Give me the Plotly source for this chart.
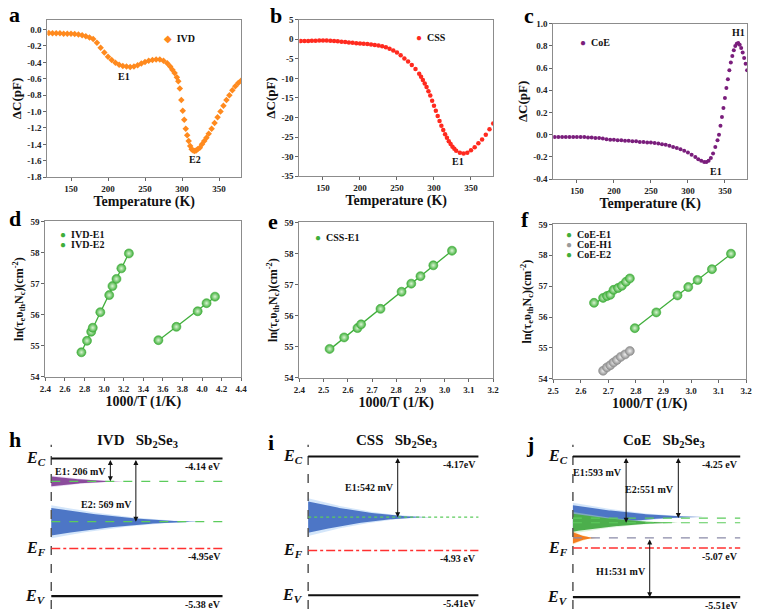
import numpy as np
import plotly.graph_objects as go

W, H = 760, 614
SERIF = "Times New Roman, Liberation Serif, DejaVu Serif, serif"

# ------------------------------------------------------------------ data
# (a) IVD  ΔC vs T
ivd_temp = [120, 125, 130, 135, 140, 145, 150, 155, 160, 165, 170, 175, 180, 185, 190, 195,
            200, 205, 210, 215, 220, 225, 230, 235, 240, 245, 250, 255, 260, 265, 270, 275,
            280, 284, 287, 290, 293, 295, 297, 299, 301, 303, 305, 307, 309, 311, 313, 315,
            317, 319, 321, 324, 327, 330, 333, 336, 340, 344, 348, 352, 356, 360, 364, 368,
            372, 376, 380]
ivd_dc = [-0.04, -0.045, -0.045, -0.045, -0.05, -0.05, -0.05, -0.055, -0.06, -0.07, -0.08,
          -0.095, -0.115, -0.16, -0.22, -0.28, -0.33, -0.37, -0.405, -0.43, -0.445, -0.45,
          -0.455, -0.45, -0.435, -0.415, -0.395, -0.38, -0.37, -0.365, -0.365, -0.38, -0.41,
          -0.45, -0.49, -0.53, -0.58, -0.63, -0.72, -0.86, -0.99, -1.10, -1.21, -1.29, -1.36,
          -1.42, -1.46, -1.475, -1.48, -1.475, -1.46, -1.44, -1.40, -1.36, -1.32, -1.27,
          -1.21, -1.14, -1.07, -1.00, -0.93, -0.86, -0.80, -0.74, -0.69, -0.65, -0.62]

# (b) CSS  ΔC vs T
css_temp = [120, 125, 130, 135, 140, 145, 150, 155, 160, 165, 170, 175, 180, 185, 190, 195,
            200, 205, 210, 215, 220, 225, 230, 235, 240, 245, 250, 255, 260, 265, 270, 275,
            280, 282.5, 285, 287.5, 290, 292.5, 295, 297.5, 300, 302.5, 305, 307.5, 310,
            312.5, 315, 317.5, 320, 322.5, 325, 327.5, 330, 335, 340, 345, 350, 355, 360,
            365, 370, 375, 380]
css_dc = [-0.45, -0.42, -0.4, -0.37, -0.35, -0.32, -0.3, -0.32, -0.35, -0.42, -0.5, -0.6,
          -0.7, -0.8, -0.9, -0.98, -1.05, -1.12, -1.2, -1.32, -1.45, -1.6, -1.8, -2.05,
          -2.4, -2.85, -3.4, -4.1, -4.9, -5.7, -6.6, -7.6, -8.8, -9.6, -10.4, -11.3, -12.2,
          -13.3, -14.4, -15.7, -17.0, -18.3, -19.6, -20.9, -22.1, -23.2, -24.3, -25.2,
          -26.1, -26.8, -27.5, -28.0, -28.5, -29.0, -29.2, -29.0, -28.4, -27.6, -26.6,
          -25.6, -24.4, -23.0, -21.5]

# (c) CoE  ΔC vs T
coe_temp = [120, 125, 130, 135, 140, 145, 150, 155, 160, 165, 170, 175, 180, 185, 190, 195,
            200, 205, 210, 215, 220, 225, 230, 235, 240, 245, 250, 255, 260, 265, 270, 275,
            280, 285, 290, 295, 300, 305, 310, 314, 318, 322, 325, 328, 331, 334, 337, 340,
            342, 344, 346, 348, 350, 352, 354, 356, 358, 360, 362, 364, 366, 368, 370, 372,
            374, 376, 378, 380]
coe_dc = [-0.02, -0.02, -0.02, -0.02, -0.02, -0.02, -0.02, -0.02, -0.02, -0.025, -0.025,
          -0.03, -0.03, -0.035, -0.04, -0.045, -0.045, -0.05, -0.05, -0.055, -0.055, -0.06,
          -0.06, -0.065, -0.065, -0.07, -0.07, -0.075, -0.08, -0.085, -0.09, -0.1, -0.11,
          -0.12, -0.13, -0.145, -0.16, -0.18, -0.2, -0.22, -0.235, -0.245, -0.245, -0.235,
          -0.21, -0.17, -0.11, -0.05, 0.0, 0.08, 0.16, 0.24, 0.33, 0.42, 0.5, 0.58, 0.65,
          0.71, 0.76, 0.80, 0.82, 0.825, 0.81, 0.78, 0.74, 0.69, 0.64, 0.58]

# (d)-(f) Arrhenius points
ivd_e1_x = [3.554, 3.738, 3.955, 4.046, 4.132]
ivd_e1_y = [55.18, 55.61, 56.11, 56.37, 56.58]
ivd_e2_x = [2.768, 2.825, 2.868, 2.884, 2.961, 3.052, 3.085, 3.126, 3.176, 3.253]
ivd_e2_y = [54.79, 55.16, 55.45, 55.58, 56.08, 56.63, 56.92, 57.15, 57.49, 57.97]
css_e1_x = [2.525, 2.585, 2.640, 2.655, 2.735, 2.822, 2.862, 2.900, 2.953, 3.030]
css_e1_y = [54.93, 55.30, 55.60, 55.72, 56.22, 56.77, 57.03, 57.27, 57.62, 58.09]
coe_e1_x = [2.796, 2.874, 2.951, 2.990, 3.024, 3.076, 3.145]
coe_e1_y = [55.64, 56.15, 56.70, 56.97, 57.20, 57.55, 58.05]
coe_h1_x = [2.681, 2.695, 2.707, 2.719, 2.731, 2.745, 2.761, 2.778]
coe_h1_y = [54.26, 54.37, 54.44, 54.53, 54.61, 54.71, 54.79, 54.90]
coe_e2_x = [2.648, 2.681, 2.695, 2.707, 2.719, 2.735, 2.749, 2.764, 2.778]
coe_e2_y = [56.46, 56.62, 56.68, 56.72, 56.88, 56.94, 57.01, 57.14, 57.25]

# tick labels
a_yticks = ["0.0", "-0.2", "-0.4", "-0.6", "-0.8", "-1.0", "-1.2", "-1.4", "-1.6", "-1.8"]
b_yticks = ["5", "0", "-5", "-10", "-15", "-20", "-25", "-30", "-35"]
c_yticks = ["1.0", "0.8", "0.6", "0.4", "0.2", "0.0", "-0.2", "-0.4"]
temp_tick_labels = ["150", "200", "250", "300", "350"]
d_xticks = ["2.4", "2.6", "2.8", "3.0", "3.2", "3.4", "3.6", "3.8", "4.0", "4.2", "4.4"]
e_xticks = ["2.4", "2.5", "2.6", "2.7", "2.8", "2.9", "3.0", "3.1", "3.2"]
f_xticks = ["2.5", "2.6", "2.7", "2.8", "2.9", "3.0", "3.1", "3.2"]
ln_yticks = ["54", "55", "56", "57", "58", "59"]

# (h)-(j) band diagrams (eV / meV)
sample_names = ["IVD", "CSS", "CoE"]
ec_level = [-4.14, -4.17, -4.25]
ev_level = [-5.38, -5.41, -5.51]
ef_level = [-4.95, -5.01, -5.07]          # drawn position of E_F
ec_text = ["-4.14 eV", "-4.17eV", "-4.25 eV"]
ef_text = ["-4.95eV", "-4.93 eV", "-5.07 eV"]
ev_text = ["-5.38 eV", "-5.41eV", "-5.51eV"]
ivd_traps_mev = [206, 569]                # below E_C
css_traps_mev = [542]                     # below E_C
coe_e_traps_mev = [593, 551]              # below E_C
coe_h_traps_mev = [531]                   # above E_V

# ------------------------------------------------------------------ helpers
def px(x):
    return x / W


def py(y):
    return 1 - y / H


def dom_x(a, b):
    return [px(a), px(b)]


def dom_y(top, bottom):
    return [py(bottom), py(top)]


def ticks(labels):
    return dict(tickmode="array", tickvals=[float(s) for s in labels], ticktext=labels)


TICKFONT = dict(family=SERIF, size=9, color="#222", weight="bold")


def frame(domain, rng, tk, title, anchor, standoff, tsize=13):
    d = dict(domain=domain, range=rng, showline=True, mirror=True, linecolor="#8c8c8c",
             linewidth=1, ticks="outside", ticklen=3, tickcolor="#666", tickfont=TICKFONT,
             showgrid=False, zeroline=False, anchor=anchor,
             title=dict(text=title, standoff=standoff,
                        font=dict(family=SERIF, size=tsize, color="#111", weight="bold")))
    d.update(tk)
    return d


fig = go.Figure()
layout = dict(width=W, height=H, margin=dict(l=0, r=0, t=0, b=0), showlegend=False,
              paper_bgcolor="white", plot_bgcolor="white")
annotations = []
shapes = []

temp_ticks = ticks(temp_tick_labels)
tlabel = "Temperature (K)"
ylab1 = "ΔC(pF)"
ylab2 = "ln(τ<sub>e</sub>υ<sub>th</sub>N<sub>c</sub>)(cm<sup>-2</sup>)"

# ---------------- row 1
layout["xaxis"] = frame(dom_x(42, 239), [118, 380], temp_ticks, tlabel, "y", 0, 14)
layout["yaxis"] = frame(dom_y(15, 175), [-1.8, 0.12], ticks(a_yticks), ylab1, "x", 2)
layout["xaxis2"] = frame(dom_x(298, 495), [118, 380], temp_ticks, tlabel, "y2", 0, 14)
layout["yaxis2"] = frame(dom_y(15, 174), [-35, 5], ticks(b_yticks), ylab1, "x2", 2)
layout["xaxis3"] = frame(dom_x(556, 753), [118, 380], temp_ticks, tlabel, "y3", 0, 14)
layout["yaxis3"] = frame(dom_y(19, 177), [-0.4, 1.0], ticks(c_yticks), ylab1, "x3", 2)

fig.add_trace(go.Scatter(x=ivd_temp, y=ivd_dc, mode="markers", xaxis="x", yaxis="y",
                         marker=dict(symbol="diamond", size=5, color="#ff8a1e")))
fig.add_trace(go.Scatter(x=css_temp, y=css_dc, mode="markers", xaxis="x2", yaxis="y2",
                         marker=dict(symbol="circle", size=4.5, color="#ff2a1f")))
fig.add_trace(go.Scatter(x=coe_temp, y=coe_dc, mode="markers", xaxis="x3", yaxis="y3",
                         marker=dict(symbol="circle", size=4, color="#7a1e7c")))

LBL = dict(family=SERIF, size=10, color="#111", weight="bold")
for xr, yr, x, y, t in [("x", "y", 221, -0.57, "E1"), ("x", "y", 318, -1.59, "E2"),
                        ("x2", "y2", 332, -31.3, "E1"),
                        ("x3", "y3", 368, 0.92, "H1"), ("x3", "y3", 338, -0.33, "E1")]:
    annotations.append(dict(xref=xr, yref=yr, x=x, y=y, text=t, showarrow=False, font=LBL))

# ---------------- row 2
xl2 = "1000/T (1/K)"
layout["xaxis4"] = frame(dom_x(40, 239), [2.4, 4.4], ticks(d_xticks), xl2, "y4", 0, 14)
layout["yaxis4"] = frame(dom_y(220, 378), [54, 59], ticks(ln_yticks), ylab2, "x4", 4, 12)
layout["xaxis5"] = frame(dom_x(298, 495), [2.4, 3.2], ticks(e_xticks), xl2, "y5", 0, 14)
layout["yaxis5"] = frame(dom_y(221, 379), [54, 59], ticks(ln_yticks), ylab2, "x5", 4, 12)
layout["xaxis6"] = frame(dom_x(556, 752), [2.5, 3.2], ticks(f_xticks), xl2, "y6", 0, 14)
layout["yaxis6"] = frame(dom_y(223, 380), [54, 59], ticks(ln_yticks), ylab2, "x6", 4, 12)

GREEN = "#3fae3a"
GRAY = "#9a9a9a"


def arrhenius(xs, ys, xa, ya, color, light):
    k, b = np.polyfit(xs, ys, 1)
    xl = np.array([min(xs), max(xs)])
    fig.add_trace(go.Scatter(x=xl, y=k * xl + b, mode="lines", xaxis=xa, yaxis=ya,
                             line=dict(color=color, width=1.3)))
    fig.add_trace(go.Scatter(x=xs, y=ys, mode="markers", xaxis=xa, yaxis=ya,
                             marker=dict(size=9, color=color,
                                         gradient=dict(type="radial", color=light),
                                         line=dict(width=0.6, color=color))))


arrhenius(ivd_e1_x, ivd_e1_y, "x4", "y4", GREEN, "#d9f5d2")
arrhenius(ivd_e2_x, ivd_e2_y, "x4", "y4", GREEN, "#d9f5d2")
arrhenius(css_e1_x, css_e1_y, "x5", "y5", GREEN, "#d9f5d2")
arrhenius(coe_e1_x, coe_e1_y, "x6", "y6", GREEN, "#d9f5d2")
arrhenius(coe_h1_x, coe_h1_y, "x6", "y6", "#8f8f8f", "#eeeeee")
arrhenius(coe_e2_x, coe_e2_y, "x6", "y6", GREEN, "#d9f5d2")


def legend_entry(x, y, glyph, color, text):
    annotations.append(dict(xref="paper", yref="paper", x=px(x), y=py(y), xanchor="left",
                            yanchor="middle", showarrow=False, font=LBL,
                            text=f'<span style="color:{color}">{glyph}</span>&nbsp;&nbsp;{text}'))


legend_entry(158, 34, "◆", "#ff8a1e", "IVD")
legend_entry(415, 33, "●", "#ff2a1f", "CSS")
legend_entry(581, 38, "●", "#7a1e7c", "CoE")
legend_entry(53, 233, "●", GREEN, "IVD-E1")
legend_entry(53, 243, "●", GREEN, "IVD-E2")
legend_entry(312, 236, "●", GREEN, "CSS-E1")
legend_entry(567, 233, "●", GREEN, "CoE-E1")
legend_entry(567, 243, "●", GRAY, "CoE-H1")
legend_entry(567, 254, "●", GREEN, "CoE-E2")

# ---------------- row 3 : band diagrams
BLUE, BLUE_GLOW = "#4d76c6", "rgba(160,200,245,0.45)"
panels = [
    dict(ax="7", x0=46, x1=220, ec_px=461, ev_px=601, title_x=134,
         levels=[(ec_level[0] - m / 1000, "#5ccc5c", "dash") for m in ivd_traps_mev],
         fans=[(ec_level[0] - ivd_traps_mev[0] / 1000, 0.425, 0.044, "#8b4c9c", "rgba(205,165,230,0.45)"),
               (ec_level[0] - ivd_traps_mev[1] / 1000, 0.885, 0.124, BLUE, BLUE_GLOW)],
         arrows=[(0.345, ec_level[0], ec_level[0] - ivd_traps_mev[0] / 1000,
                  f"E1: {ivd_traps_mev[0]} mV", -4.255),
                 (0.494, ec_level[0], ec_level[0] - ivd_traps_mev[1] / 1000,
                  f"E2: {ivd_traps_mev[1]} mV", -4.556)]),
    dict(ax="8", x0=307, x1=480, ec_px=459, ev_px=600, title_x=397,
         levels=[(ec_level[1] - m / 1000, "#5ccc5c", "dot") for m in css_traps_mev],
         fans=[(ec_level[1] - css_traps_mev[0] / 1000, 0.72, 0.14, BLUE, BLUE_GLOW)],
         arrows=[(0.526, ec_level[1], ec_level[1] - css_traps_mev[0] / 1000,
                  f"E1:{css_traps_mev[0]} mV", -4.451)]),
    dict(ax="9", x0=576, x1=746, ec_px=459, ev_px=602, title_x=669,
         levels=[(ec_level[2] - m / 1000, "#5ccc5c", "dash") for m in coe_e_traps_mev]
         + [(ev_level[2] + coe_h_traps_mev[0] / 1000, "#8a8aa8", "dash")],
         fans=[(ec_level[2] - coe_e_traps_mev[1] / 1000 + 0.01, 0.78, 0.105, BLUE, BLUE_GLOW),
               (ec_level[2] - coe_e_traps_mev[0] / 1000, 0.63, 0.08, "#4cae4c", "rgba(185,230,180,0.45)"),
               (ev_level[2] + coe_h_traps_mev[0] / 1000, 0.14, 0.05, "#f47c20", "rgba(255,215,140,0.6)")],
         arrows=[(0.318, ec_level[2], ec_level[2] - coe_e_traps_mev[0] / 1000,
                  f"E1:{coe_e_traps_mev[0]} mV", -4.391),
                 (0.63, ec_level[2], ec_level[2] - coe_e_traps_mev[1] / 1000,
                  f"E2:{coe_e_traps_mev[1]} mV", -4.541),
                 (0.459, ev_level[2] + coe_h_traps_mev[0] / 1000, ev_level[2],
                  f"H1:{coe_h_traps_mev[0]} mV", -5.281)]),
]

TOP_PX, BOT_PX = 447, 614
for i, p in enumerate(panels):
    xa, ya = "x" + p["ax"], "y" + p["ax"]
    span = p["x1"] - p["x0"]
    left_pad, right_pad = 26, 6
    scale = (p["ev_px"] - p["ec_px"]) / (ec_level[i] - ev_level[i])
    ytop = ec_level[i] + (p["ec_px"] - TOP_PX) / scale
    ybot = ev_level[i] - (BOT_PX - p["ev_px"]) / scale
    layout["xaxis" + p["ax"]] = dict(domain=dom_x(p["x0"] - left_pad, p["x1"] + right_pad),
                                     range=[-left_pad / span, 1 + right_pad / span],
                                     visible=False, anchor=ya)
    layout["yaxis" + p["ax"]] = dict(domain=dom_y(TOP_PX, BOT_PX), range=[ybot, ytop],
                                     visible=False, anchor=xa)
    # trap distributions (soft edge + core)
    t = np.linspace(0, 1, 80)
    for lev, xend, w, col, glow in p["fans"]:
        for scl, ext, c in [(1.2, 1.03, glow), (1.0, 1.0, col)]:
            xx = t * xend * ext
            hw = w * scl * (1 - t) ** 1.8
            fig.add_trace(go.Scatter(x=np.concatenate([xx, xx[::-1]]),
                                     y=np.concatenate([lev + hw, (lev - hw)[::-1]]),
                                     mode="lines", fill="toself", fillcolor=c,
                                     line=dict(width=0), xaxis=xa, yaxis=ya, hoverinfo="skip"))
    # vertical dashed reference
    shapes.append(dict(type="line", xref=xa, yref=ya + " domain", x0=0, x1=0, y0=0, y1=1,
                       line=dict(color="#555", width=1.5, dash="dash")))
    # band edges, Fermi level, trap levels
    for lev in (ec_level[i], ev_level[i]):
        shapes.append(dict(type="line", xref=xa, yref=ya, x0=0, x1=1, y0=lev, y1=lev,
                           line=dict(color="#111", width=2.2)))
    shapes.append(dict(type="line", xref=xa, yref=ya, x0=0, x1=1, y0=ef_level[i],
                       y1=ef_level[i], line=dict(color="#ff3030", width=1.4, dash="dashdot")))
    for lev, col, dash in p["levels"]:
        shapes.append(dict(type="line", xref=xa, yref=ya, x0=0, x1=1, y0=lev, y1=lev,
                           line=dict(color=col, width=1.2, dash=dash)))
    # level names
    for lev, sub in [(ec_level[i], "C"), (ef_level[i], "F"), (ev_level[i], "V")]:
        annotations.append(dict(xref=xa, yref=ya, x=0, y=lev, xanchor="right", xshift=-3,
                                yanchor="middle", showarrow=False,
                                text=f"<i>E<sub>{sub}</sub></i>",
                                font=dict(family=SERIF, size=16, color="#111", weight="bold")))
    # energy values
    for lev, txt in [(ec_level[i], ec_text[i]), (ef_level[i], ef_text[i]),
                     (ev_level[i], ev_text[i])]:
        annotations.append(dict(xref=xa, yref=ya, x=1, y=lev, xanchor="right", yshift=-8,
                                yanchor="middle", showarrow=False, text=txt, font=LBL))
    # arrows
    for xf, ya0, ya1, txt, ty in p["arrows"]:
        annotations.append(dict(xref=xa, yref=ya, axref=xa, ayref=ya, x=xf, y=ya1, ax=xf,
                                ay=ya0, text="", showarrow=True, arrowhead=2,
                                arrowside="end+start", arrowsize=1, arrowwidth=1,
                                arrowcolor="#111"))
        annotations.append(dict(xref=xa, yref=ya, x=xf, y=ty, xanchor="right", xshift=-2,
                                yanchor="middle", showarrow=False, text=txt, font=LBL))
    # title
    annotations.append(dict(xref="paper", yref="paper", x=px(p["title_x"]), y=py(443),
                            xanchor="center", yanchor="middle", showarrow=False,
                            text=f"{sample_names[i]}&nbsp;&nbsp;&nbsp;Sb<sub>2</sub>Se<sub>3</sub>",
                            font=dict(family=SERIF, size=15, color="#111", weight="bold")))

# ---------------- panel letters
for letter, x, y in [("a", 9, 10), ("b", 274, 11), ("c", 531, 11), ("d", 9, 217),
                     ("e", 271, 220), ("f", 527, 218), ("h", 9, 442), ("i", 269, 445),
                     ("j", 532, 447)]:
    annotations.append(dict(xref="paper", yref="paper", x=px(x), y=py(y), xanchor="center",
                            yanchor="middle", showarrow=False, text=letter,
                            font=dict(family=SERIF, size=22, color="#000", weight="bold")))

layout["annotations"] = annotations
layout["shapes"] = shapes
fig.update_layout(**layout)
fig.write_html("out.html")
